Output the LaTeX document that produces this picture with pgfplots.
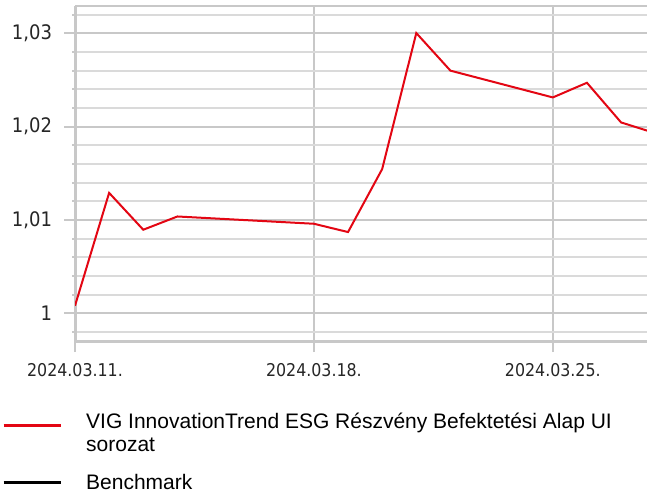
\documentclass[border=0pt]{standalone}
\usepackage{pgfplots}
\pgfplotsset{compat=1.18}
\usepackage{fontspec}
\setmainfont{Liberation Sans}
\newfontfamily\tickfont{DejaVu Sans Condensed}
\definecolor{vigred}{RGB}{227,6,19}
\definecolor{axgray}{RGB}{200,200,200}
\definecolor{mingray}{RGB}{218,218,218}
\pgfplotstableread{
day value
0 1.0008
1 1.0129
2 1.00895
3 1.01037
7 1.00959
8 1.0087
9 1.01545
10 1.03003
11 1.0260
14 1.02313
15 1.0247
16 1.02045
17 1.0193
}\fundtable
\begin{document}
\begin{tikzpicture}[x=1bp,y=1bp]
\useasboundingbox (0,0) rectangle (647,497);
\begin{axis}[
  at={(75bp,155.3bp)}, anchor=south west,
  scale only axis, width=572bp, height=335.7bp,
  xmin=0, xmax=16.76, ymin=0.99695, ymax=1.03293,
  axis x line*=bottom, axis y line*=left,
  axis line style={axgray, line width=3bp},
  xtick={0,7,14}, xticklabels={2024.03.11.,2024.03.18.,2024.03.25.},
  ytick={1,1.01,1.02,1.03}, yticklabels={1,{1,01},{1,02},{1,03}},
  minor ytick={0.998,1.002,1.004,1.006,1.008,1.012,1.014,1.016,1.018,1.022,1.024,1.026,1.028,1.032},
  extra y ticks={1.03293}, extra y tick labels={},
  extra y tick style={grid style={axgray, line width=3bp}, major tick length=0pt},
  ymajorgrids, yminorgrids, xmajorgrids,
  major grid style={axgray, line width=2bp},
  minor grid style={mingray, line width=2bp},
  tick align=outside,
  major tick length=10.5bp, minor tick length=3bp,
  every tick/.style={axgray, line width=2bp},
  x tick label style={font=\tickfont\fontsize{17.6bp}{20bp}\selectfont, color=black!85, yshift=-8bp},
  y tick label style={font=\tickfont\fontsize{20bp}{22bp}\selectfont, color=black!85, xshift=-9bp},
  legend style={at={(-0.1276,-0.205)}, anchor=north west, draw=none, fill=none,
    inner sep=0pt, font=\fontsize{21bp}{23.7bp}\selectfont, row sep=31bp, column sep=22bp},
  legend cell align=left,
  legend image code/.code={\draw[#1, line width=3bp] (0bp,0bp) -- (57bp,0bp);},
]
\addplot[vigred, line width=2bp] table[x=day, y=value] {\fundtable};
\addlegendentry{\parbox[c]{560bp}{VIG InnovationTrend ESG Részvény Befektetési Alap UI\\sorozat}}
\addlegendimage{black, line width=3bp}
\addlegendentry{Benchmark}
\end{axis}
\end{tikzpicture}
\end{document}
